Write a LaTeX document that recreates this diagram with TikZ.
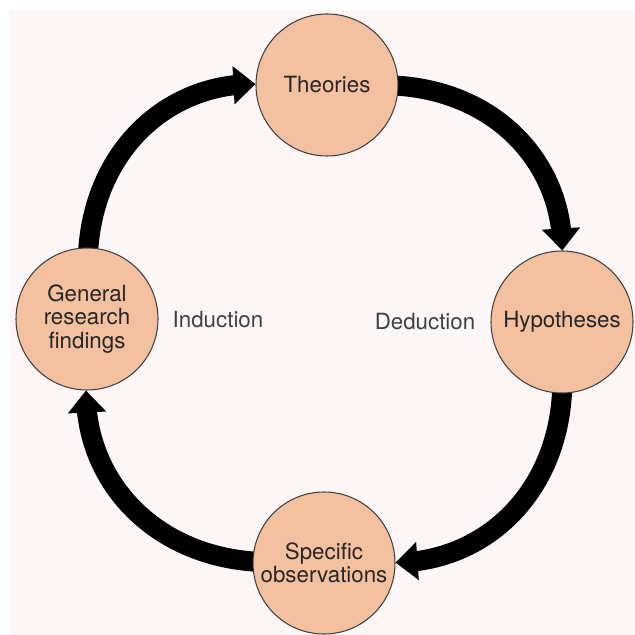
\documentclass[tikz,border=0pt]{standalone}
\usepackage{fontspec}
\setmainfont{TeX Gyre Heros}
\usetikzlibrary{arrows.meta,bending}
\definecolor{peach}{RGB}{244,193,160}
\definecolor{paper}{RGB}{253,246,246}
\pgfdeclarelayer{back}
\pgfsetlayers{back,main}
\tikzset{
	stage/.style={circle, draw=black!75, line width=0.6pt, fill=peach, minimum size=2.84cm, inner sep=0pt, align=center, text=black!85, font=\fontsize{12.7}{13.4}\selectfont},
	cyclearrow/.style={line width=0.4cm, -{Triangle[width=0.74cm,length=0.44cm]}, shorten <=-0.3cm},
	phase/.style={text=black!75, font=\fontsize{12.7}{14}\selectfont}
}

\begin{document}
\begin{tikzpicture}
			%%%%% START %%%%%
			
			\begin{pgfonlayer}{back}
				\fill[white] (0, 0) rectangle (12.7, 12.7);
				\fill[paper] (0.2, 0) rectangle (12.7, 12.5);
			\end{pgfonlayer}
			
			\node[stage] (theories) at (6.54, 11.0) {Theories};
			\node[stage] (hypotheses) at (11.24, 6.26) {Hypotheses};
			\node[stage] (specific) at (6.48, 1.44) {Specific\\observations};
			\node[stage] (general) at (1.74, 6.32) {General\\research\\findings};
			
			\node[phase] (induction) at (4.36, 6.30) {Induction};
			\node[phase] (deduction) at (8.5, 6.26) {Deduction};
			
			\begin{pgfonlayer}{back}
				\draw[cyclearrow] (theories) to[bend left=45] (hypotheses);
				\draw[cyclearrow] (hypotheses) to[bend left=45] (specific);
				\draw[cyclearrow] (specific) to[bend left=45] (general);
				\draw[cyclearrow] (general) to[bend left=45] (theories);
			\end{pgfonlayer}
			
			%%%%% END %%%%%
\end{tikzpicture}
\end{document}
